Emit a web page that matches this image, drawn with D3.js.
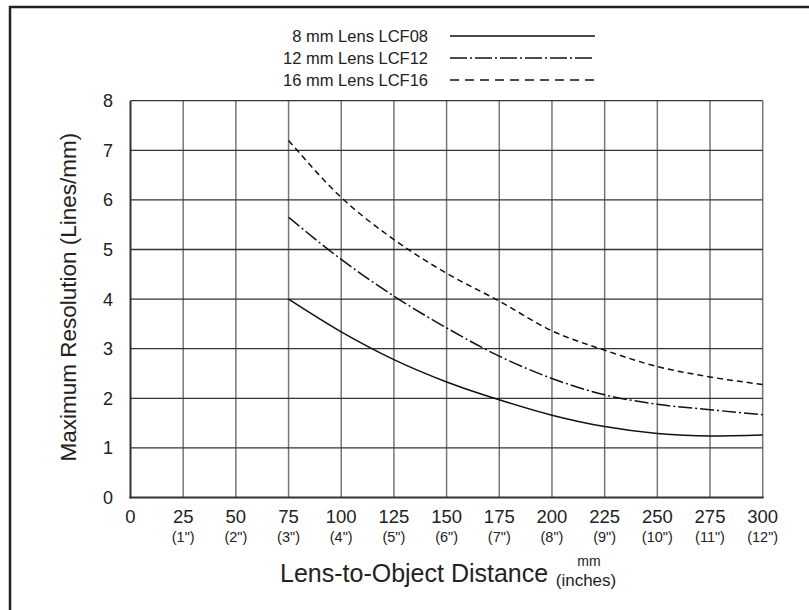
<!DOCTYPE html>
<html>
<head>
<meta charset="utf-8">
<script src="https://cdn.jsdelivr.net/npm/d3@7"></script>
<style>
  html, body { margin: 0; padding: 0; background: #fff; }
  svg { display: block; }
  text { font-family: "Liberation Sans", Arial, Helvetica, sans-serif; fill: #222; }
</style>
</head>
<body>
<svg id="chart" width="809" height="610"></svg>
<script>
// ---- data ----
const distances = [75, 100, 125, 150, 175, 200, 225, 250, 275, 300];
const lcf08 = [4.0, 3.34, 2.78, 2.33, 1.97, 1.66, 1.43, 1.29, 1.24, 1.26];
const lcf12 = [5.65, 4.80, 4.06, 3.42, 2.85, 2.40, 2.07, 1.88, 1.77, 1.67];
const lcf16 = [7.2, 6.05, 5.2, 4.52, 3.96, 3.36, 2.97, 2.64, 2.43, 2.28];
const seriesNames = ["8 mm Lens LCF08", "12 mm Lens LCF12", "16 mm Lens LCF16"];
const xTicks = [0, 25, 50, 75, 100, 125, 150, 175, 200, 225, 250, 275, 300];
const xInchLabels = ["", "(1\")", "(2\")", "(3\")", "(4\")", "(5\")", "(6\")", "(7\")", "(8\")", "(9\")", "(10\")", "(11\")", "(12\")"];
const yTicks = [0, 1, 2, 3, 4, 5, 6, 7, 8];

const svg = d3.select("#chart");
const L = 130.5, R = 762.7, T = 100.7, B = 497.5;
const x = d3.scaleLinear().domain([0, 300]).range([L, R]);
const y = d3.scaleLinear().domain([0, 8]).range([B, T]);

// outer frame
svg.append("rect").attr("x", 10).attr("y", 7).attr("width", 820).attr("height", 640)
  .attr("fill", "none").attr("stroke", "#222").attr("stroke-width", 2.5);

// grid
svg.append("g").selectAll("line").data(xTicks.filter(d => d > 0)).join("line")
  .attr("x1", d => x(d)).attr("x2", d => x(d)).attr("y1", y(0)).attr("y2", y(8))
  .attr("stroke", "#777").attr("stroke-width", 1.5);
svg.append("g").selectAll("line").data(yTicks.filter(d => d > 0)).join("line")
  .attr("x1", x(0)).attr("x2", x(300)).attr("y1", d => y(d)).attr("y2", d => y(d))
  .attr("stroke", "#333").attr("stroke-width", 1.3);

// axes lines
svg.append("line").attr("x1", x(0)).attr("x2", x(0)).attr("y1", y(0) + 1).attr("y2", y(8))
  .attr("stroke", "#333").attr("stroke-width", 2);
svg.append("line").attr("x1", x(0) - 1).attr("x2", x(300) + 1).attr("y1", y(0)).attr("y2", y(0))
  .attr("stroke", "#333").attr("stroke-width", 2.2);

// y tick labels
svg.append("g").selectAll("text").data(yTicks).join("text")
  .attr("x", 113).attr("y", d => y(d)).attr("dy", "0.36em")
  .attr("text-anchor", "end").attr("font-size", 18).text(d => d);

// x tick labels
svg.append("g").selectAll("text").data(xTicks).join("text")
  .attr("x", d => x(d)).attr("y", 522.5)
  .attr("text-anchor", "middle").attr("font-size", 18.5).text(d => d);
svg.append("g").selectAll("text").data(xTicks).join("text")
  .attr("x", d => x(d)).attr("y", 542)
  .attr("text-anchor", "middle").attr("font-size", 14.5).text((d, i) => xInchLabels[i]);

// axis titles
svg.append("text").attr("x", 280).attr("y", 582).attr("font-size", 25)
  .text("Lens-to-Object Distance");
svg.append("text").attr("x", 589).attr("y", 566).attr("font-size", 14)
  .attr("text-anchor", "middle").text("mm");
svg.append("text").attr("x", 586).attr("y", 585.5).attr("font-size", 17)
  .attr("text-anchor", "middle").text("(inches)");
svg.append("text")
  .attr("transform", "translate(76," + ((T + B) / 2 - 2) + ") rotate(-90)")
  .attr("text-anchor", "middle").attr("font-size", 22.5)
  .text("Maximum Resolution (Lines/mm)");

// curves
const dashes = ["none", "14,3,2,3", "6,4"];
const legendDashes = ["none", "17,3,2,3", "9,6"];
const allSeries = [lcf08, lcf12, lcf16];
const line = d3.line().x((d, i) => x(distances[i])).y(d => y(d)).curve(d3.curveMonotoneX);
svg.append("g").selectAll("path").data(allSeries).join("path")
  .attr("d", d => line(d)).attr("fill", "none").attr("stroke", "#111")
  .attr("stroke-width", 1.5).attr("stroke-dasharray", (d, i) => dashes[i]);

// legend
const legY = [36, 58, 80];
const lg = svg.append("g");
lg.selectAll("text").data(seriesNames).join("text")
  .attr("x", 428).attr("y", (d, i) => legY[i]).attr("dy", "0.36em")
  .attr("text-anchor", "end").attr("font-size", 16.5).text(d => d);
lg.selectAll("line").data(seriesNames).join("line")
  .attr("x1", 450).attr("x2", 595).attr("y1", (d, i) => legY[i]).attr("y2", (d, i) => legY[i])
  .attr("stroke", "#111").attr("stroke-width", 1.4).attr("stroke-dasharray", (d, i) => legendDashes[i]);
</script>
</body>
</html>
